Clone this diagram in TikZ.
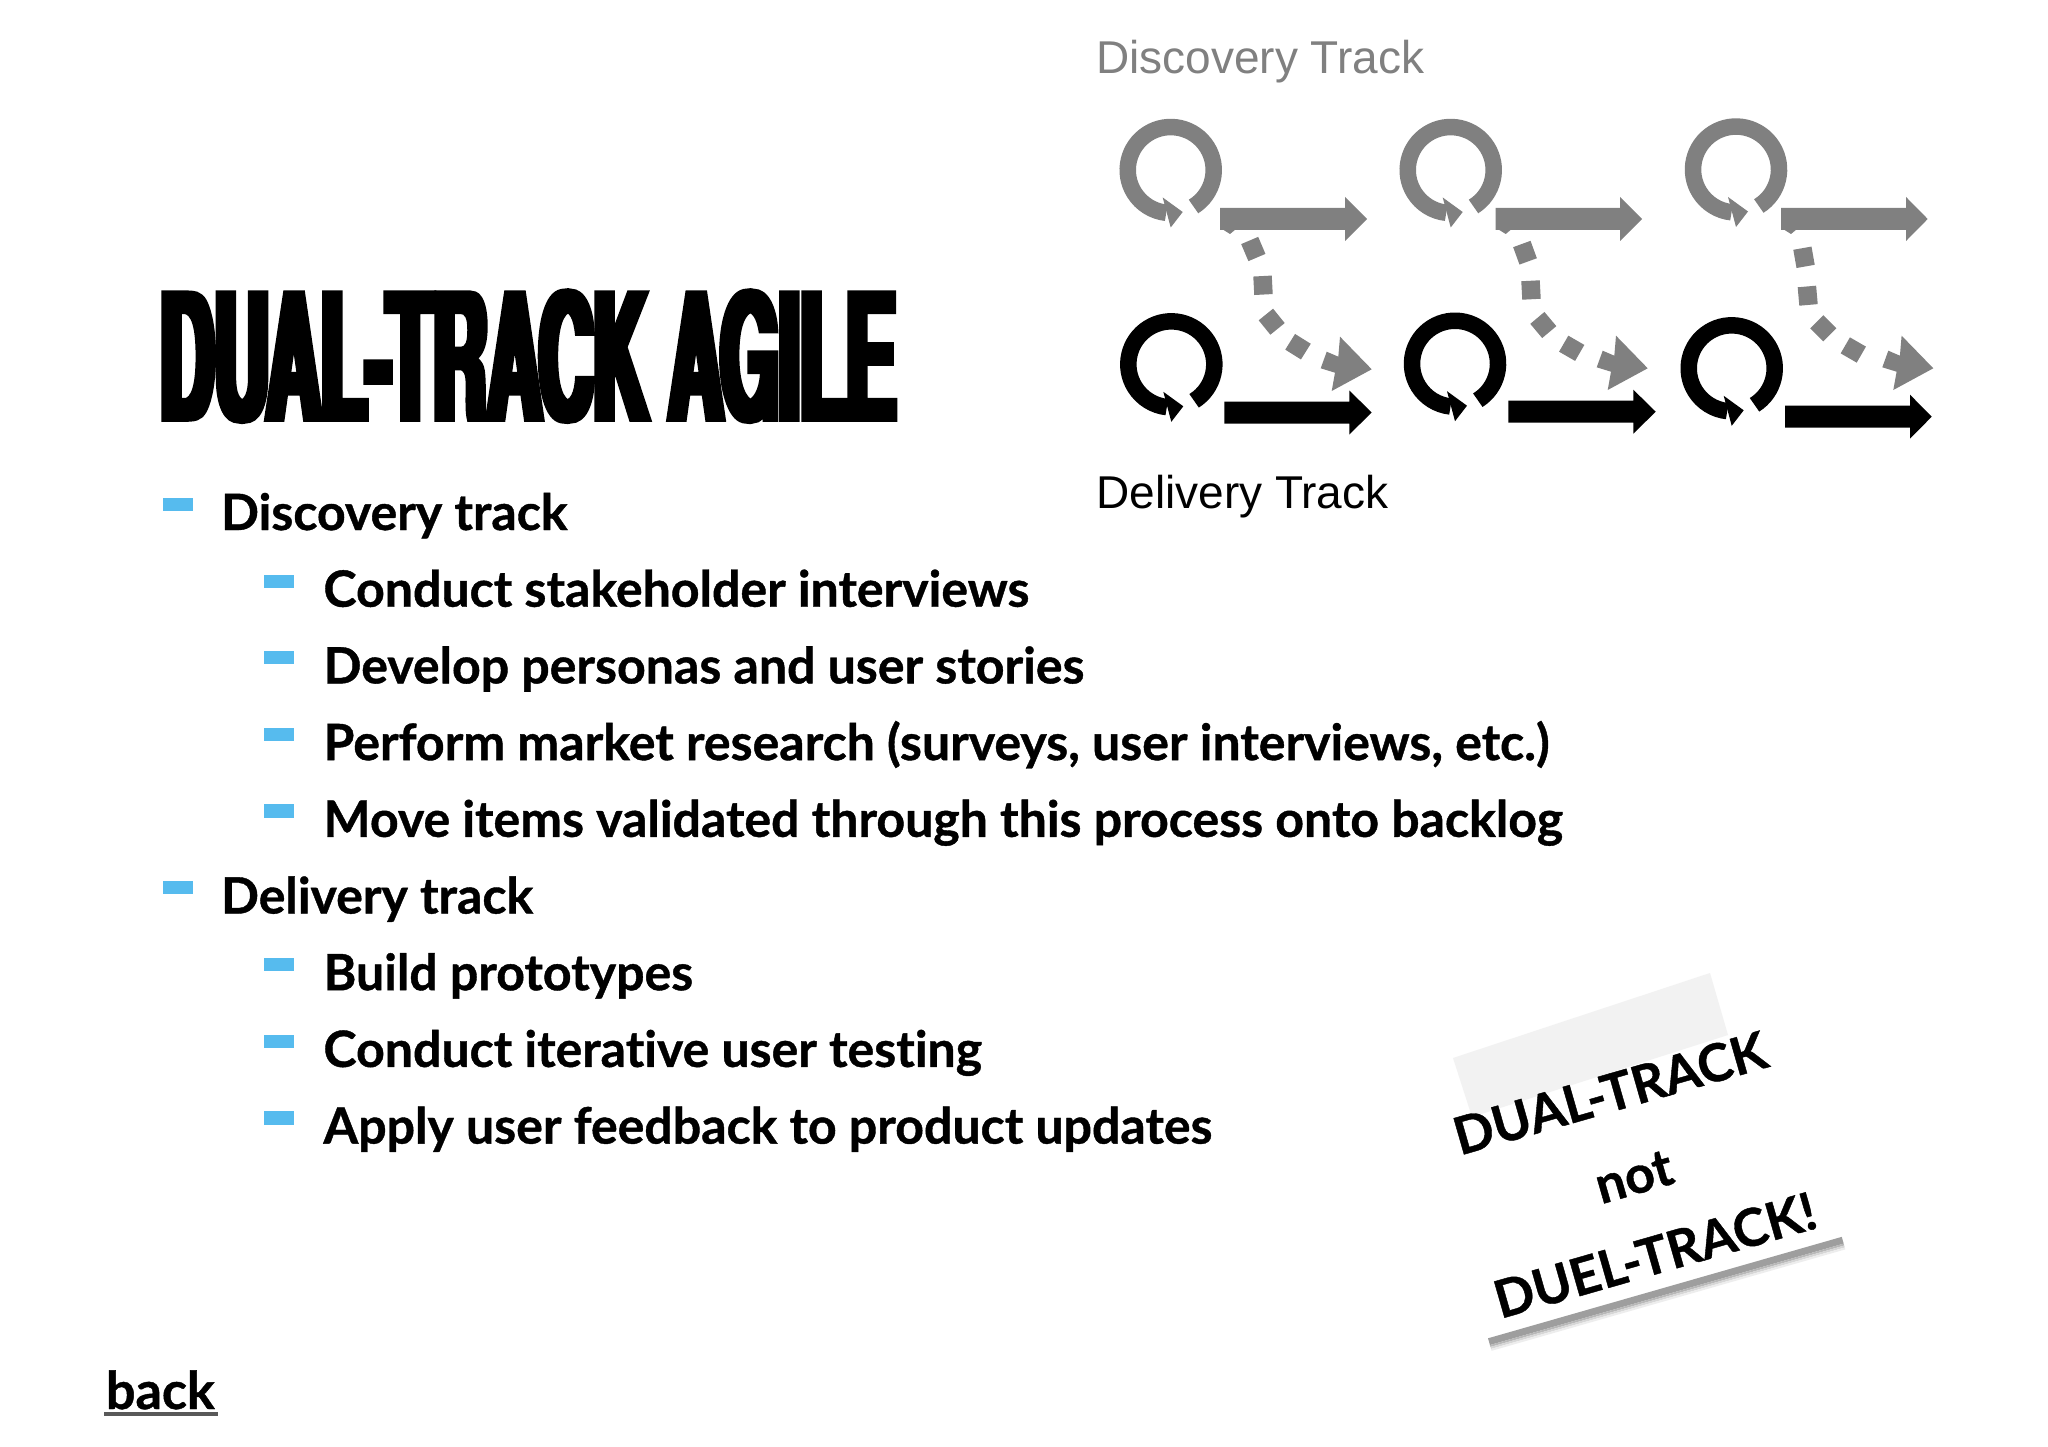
\documentclass[tikz,border=0pt]{standalone}
\usepackage{fontspec}
\usepackage{graphicx}
\setmainfont{Lato}[Ligatures=NoCommon,BoldFeatures={FakeBold=0.8}]
\newfontfamily\titlefont[FakeStretch=0.0705,FakeBold=0.85]{TeX Gyre Heros Bold}
\newfontfamily\imgfont{Liberation Sans}
\definecolor{dgray}{HTML}{808080}
\definecolor{bul}{HTML}{56BBEE}
\tikzset{
 x=1pt,y=-1pt,
 lone/.style={anchor=base west,inner sep=0pt,outer sep=0pt,font=\fontsize{50}{54}\selectfont\bfseries},
 bulletbar/.style={fill=bul,draw=none},
 note/.style={anchor=center,inner sep=0pt,rotate=16,font=\fontsize{52}{54}\selectfont\bfseries},
 dsq/.style={fill=dgray,draw=none,minimum size=18.5pt,inner sep=0pt,outer sep=0pt},
 pics/loopicon/.style={code={
   \draw[#1,line width=16.5pt] (22.8,36.5) arc[start angle=58,end angle=-264,radius=43];
   \fill[#1] (-8,27.5) -- (12,42) -- (0,57.5) -- cycle;
 }},
 pics/dhead/.style={code={
   \fill[dgray] (-45,-17.6) -- (-33.4,-12.6) -- (-31.7,-32.6) -- (0,0) -- (-40,21.7) -- (-36.7,3.4) -- (-51,-1) -- cycle;
 }},
}
\newcommand{\harrow}[5]{% colour, x0, x1, ycentre, tipx
  \fill[#1] (#2,#4-11) -- (#3,#4-11) -- (#3,#4-22) -- (#5,#4) -- (#3,#4+22) -- (#3,#4+11) -- (#2,#4+11) -- cycle;
}
\newcommand{\nub}[2]{\fill[dgray] (#1+2,#2+10) -- (#1+16,#2+10) -- (#1+10,#2+15) -- cycle;}
\begin{document}
\begin{tikzpicture}
\useasboundingbox (0,0) rectangle (2048,1447);
\fill[white] (0,0) rectangle (2048,1447);
% title
\node[anchor=base west,inner sep=0pt] (title) at (160,421) {\scalebox{6}[1]{\fontsize{178}{180}\selectfont\titlefont DUAL-TRACK AGILE}};
% track image labels
\node[anchor=base west,inner sep=0pt,text=dgray,font=\fontsize{46}{50}\selectfont\imgfont] (dlab) at (1096,74) {Discovery Track};
\node[anchor=base west,inner sep=0pt,font=\fontsize{46}{50}\selectfont\imgfont] (dellab) at (1096,508.5) {Delivery Track};
% loops
\pic at (1170.7,170) {loopicon=dgray};
\pic at (1450.7,170) {loopicon=dgray};
\pic at (1736,169.5) {loopicon=dgray};
\pic at (1171.3,364.3) {loopicon=black};
\pic at (1455,363.7) {loopicon=black};
\pic at (1731.7,368.3) {loopicon=black};
% arrows
\harrow{dgray}{1220}{1345}{219}{1367}
\harrow{dgray}{1495.7}{1620}{219}{1642}
\harrow{dgray}{1781}{1906}{219}{1927.7}
\nub{1220}{219}
\nub{1495.7}{219}
\nub{1781}{219}
\harrow{black}{1224.3}{1349.3}{412.5}{1371.7}
\harrow{black}{1508.3}{1633.3}{411.7}{1655.7}
\harrow{black}{1785}{1910}{416.7}{1931.7}
% dashed links
\node[dsq,rotate=23] (a1) at (1253.3,249) {};
\node[dsq,rotate=3] (a2) at (1263,285.3) {};
\node[dsq,rotate=39] (a3) at (1271.7,321.7) {};
\node[dsq,rotate=-32] (a4) at (1298,346.7) {};
\pic at (1371.7,369.3) {dhead};
\node[dsq,rotate=20] (b1) at (1525,252.7) {};
\node[dsq,rotate=3] (b2) at (1531,290) {};
\node[dsq,rotate=40] (b3) at (1543.3,325) {};
\node[dsq,rotate=-30] (b4) at (1571.7,348.3) {};
\pic at (1647.7,368.3) {dhead};
\node[dsq,rotate=10] (c1) at (1804,257.3) {};
\node[dsq,rotate=5] (c2) at (1807.7,295.7) {};
\node[dsq,rotate=45] (c3) at (1823.3,328.3) {};
\node[dsq,rotate=-30] (c4) at (1853.3,350) {};
\pic at (1933.3,368.3) {dhead};
% bullets
\foreach \yy in {497.5,881}{\fill[bulletbar] (162.7,\yy) rectangle (192.7,\yy+13.4);}
\foreach \yy in {574.5,651,727.7,804.4,957.8,1034.5,1111.2}{\fill[bulletbar] (264,\yy) rectangle (294,\yy+13.4);}
% text
\node[lone] (a) at (221,530) {Discovery track};
\node[lone] (b) at (323.5,606.7) {Conduct stakeholder interviews};
\node[lone] (c) at (323.5,683.4) {Develop personas and user stories};
\node[lone] (d) at (323.5,760.1) {Perform market research (surveys, user interviews, etc.)};
\node[lone] (e) at (323.5,836.8) {Move items validated through this process onto backlog};
\node[lone] (f) at (221,913.5) {Delivery track};
\node[lone] (g) at (323.5,990.2) {Build prototypes};
\node[lone] (h) at (323.5,1066.9) {Conduct iterative user testing};
\node[lone] (i) at (323.5,1143.6) {Apply user feedback to product updates};
\node[lone,font=\fontsize{52}{54}\selectfont\bfseries] (back) at (106,1409) {back};
\fill[black!65] (104,1411.5) rectangle (218,1416);
% sticky note
\fill[black!5] (1453,1058) -- (1710,973) -- (1728,1035) -- (1472,1117) -- cycle;
\begin{scope}[shift={(1488,1338.3)},rotate=16]
\fill[black!38] (0,0) rectangle (368,7);
\fill[black!28] (0,7) rectangle (368,9);
\fill[black!16] (0,9) rectangle (368,11);
\fill[black!7] (0,11) rectangle (368,13);
\end{scope}
\node[note] (n1) at (1610,1093) {DUAL-TRACK};
\node[note] (n2) at (1634,1177) {not};
\node[note] (n3) at (1655,1255) {DUEL-TRACK!};
\end{tikzpicture}
\end{document}
